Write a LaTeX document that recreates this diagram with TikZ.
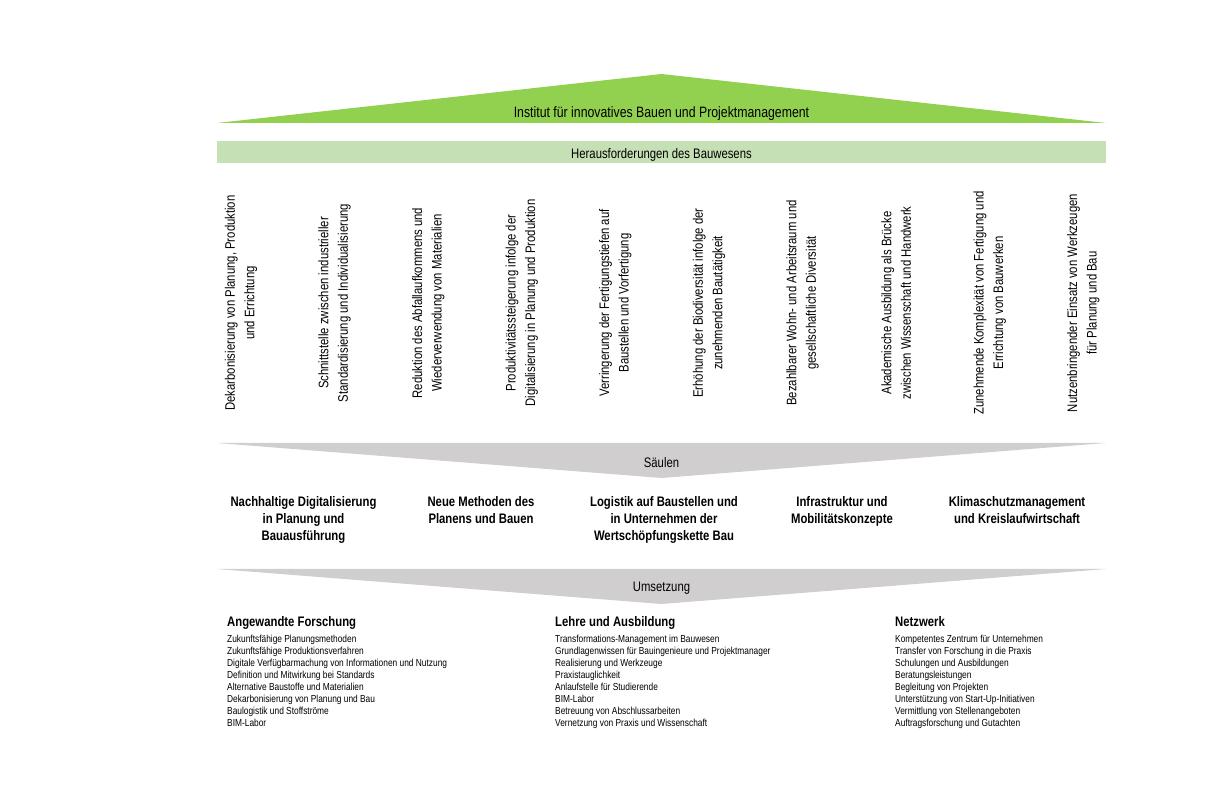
\documentclass[tikz,border=0pt]{standalone}
\usepackage{fontspec}
\setmainfont{Liberation Sans}[FakeStretch=0.82]
\definecolor{topgreen}{HTML}{92D050}
\definecolor{lightgreen}{HTML}{C5E0B4}
\definecolor{bandgrey}{HTML}{D0CECE}
\tikzset{
  titletext/.style={font=\fontsize{15}{17}\selectfont, inner sep=0pt},
  bandtext/.style={font=\fontsize{13.8}{16}\selectfont, inner sep=0pt},
  coltext/.style={font=\fontsize{13.8}{19.5}\selectfont, rotate=90, align=center, inner sep=0pt},
  pillar/.style={font=\fontsize{13.8}{17}\selectfont\bfseries, align=center, inner sep=0pt, anchor=north},
  listhead/.style={font=\fontsize{13.8}{15}\selectfont\bfseries, anchor=base west, inner sep=0pt},
  listbody/.style={font=\fontsize{10.2}{12}\selectfont, align=left, anchor=north west, inner sep=0pt},
}
\begin{document}
\begin{tikzpicture}[x=1pt,y=1pt]
\useasboundingbox (0,0) rectangle (1224,801);
% top green roof
\fill[topgreen] (217,678) -- (661.5,727) -- (1106,678) -- cycle;
\node[titletext] (inst) at (661.5,687) {Institut für innovatives Bauen und Projektmanagement};
% light green bar
\fill[lightgreen] (217,637.5) rectangle (1106,660);
\node[bandtext] (hera) at (661.5,646.5) {Herausforderungen des Bauwesens};
% columns
\foreach \i/\t in {
 0/{Dekarbonisierung von Planung, Produktion\\und Errichtung},
 1/{Schnittstelle zwischen industrieller\\Standardisierung und Individualisierung},
 2/{Reduktion des Abfallaufkommens und\\Wiederverwendung von Materialien},
 3/{Produktivitätssteigerung infolge der\\Digitalisierung in Planung und Produktion},
 4/{Verringerung der Fertigungstiefen auf\\Baustellen und Vorfertigung},
 5/{Erhöhung der Biodiversität infolge der\\zunehmenden Bautätigkeit},
 6/{Bezahlbarer Wohn- und Arbeitsraum und\\gesellschaftliche Diversität},
 7/{Akademische Ausbildung als Brücke\\zwischen Wissenschaft und Handwerk},
 8/{Zunehmende Komplexität von Fertigung und\\Errichtung von Bauwerken},
 9/{Nutzenbringender Einsatz von Werkzeugen\\für Planung und Bau}}
{\node[coltext] (col\i) at (241+93.6*\i,498) {\t};}
% Säulen chevron
\fill[bandgrey] (217,358) -- (1106,358) -- (661.5,323) -- cycle;
\node[bandtext] (saeulen) at (661.5,338) {Säulen};
% pillars
\node[pillar] (p1) at (303.5,305) {Nachhaltige Digitalisierung\\in Planung und\\Bauausführung};
\node[pillar] (p2) at (481,305) {Neue Methoden des\\Planens und Bauen};
\node[pillar] (p3) at (664,305) {Logistik auf Baustellen und\\in Unternehmen der\\Wertschöpfungskette Bau};
\node[pillar] (p4) at (842,305) {Infrastruktur und\\Mobilitätskonzepte};
\node[pillar] (p5) at (1017,305) {Klimaschutzmanagement\\und Kreislaufwirtschaft};
% Umsetzung chevron
\fill[bandgrey] (217,232) -- (1106,232) -- (661.5,197) -- cycle;
\node[bandtext] (umsetzung) at (661.5,212.5) {Umsetzung};
% lists
\node[listhead] (h1) at (227,174) {Angewandte Forschung};
\node[listbody] (l1) at (227,166) {Zukunftsfähige Planungsmethoden\\Zukunftsfähige Produktionsverfahren\\Digitale Verfügbarmachung von Informationen und Nutzung\\Definition und Mitwirkung bei Standards\\Alternative Baustoffe und Materialien\\Dekarbonisierung von Planung und Bau\\Baulogistik und Stoffströme\\BIM-Labor};
\node[listhead] (h2) at (555,174) {Lehre und Ausbildung};
\node[listbody] (l2) at (555,166) {Transformations-Management im Bauwesen\\Grundlagenwissen für Bauingenieure und Projektmanager\\Realisierung und Werkzeuge\\Praxistauglichkeit\\Anlaufstelle für Studierende\\BIM-Labor\\Betreuung von Abschlussarbeiten\\Vernetzung von Praxis und Wissenschaft};
\node[listhead] (h3) at (895,174) {Netzwerk};
\node[listbody] (l3) at (895,166) {Kompetentes Zentrum für Unternehmen\\Transfer von Forschung in die Praxis\\Schulungen und Ausbildungen\\Beratungsleistungen\\Begleitung von Projekten\\Unterstützung von Start-Up-Initiativen\\Vermittlung von Stellenangeboten\\Auftragsforschung und Gutachten};
\end{tikzpicture}
\end{document}
